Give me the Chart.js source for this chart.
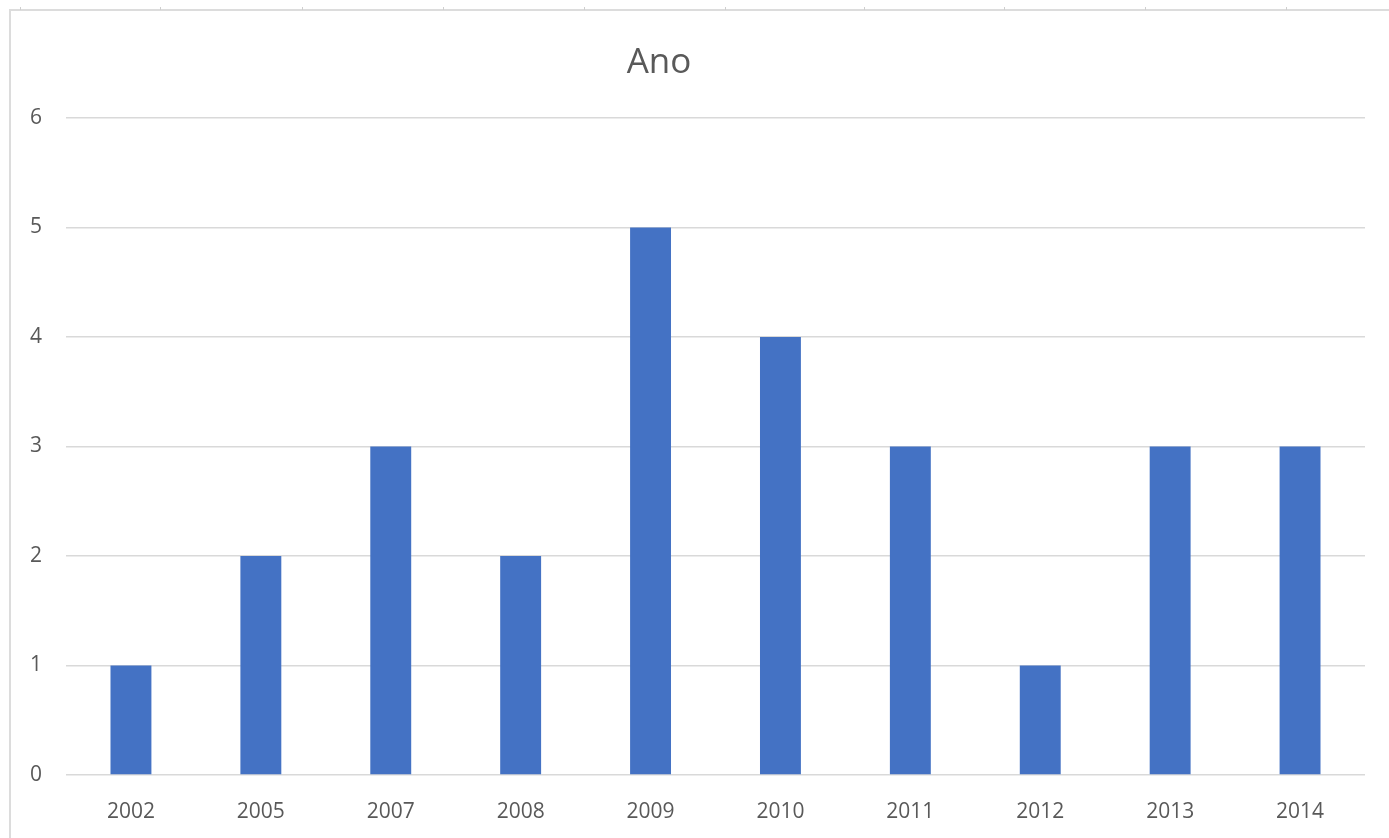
<!DOCTYPE html>
<html>
<head>
<meta charset="utf-8">
<title>Ano</title>
<script src="https://cdn.jsdelivr.net/npm/chart.js@4/dist/chart.umd.min.js"></script>
<style>
  html, body { margin: 0; padding: 0; background: #fff; }
  #wrap { position: relative; width: 1389px; height: 838px; overflow: hidden; }
  #frameTop { position: absolute; left: 10px; top: 9px; width: 1379px; height: 0; border-top: 2px solid #dcdcdc; }
  #frameLeft { position: absolute; left: 9px; top: 9px; width: 0; height: 829px; border-left: 2px solid #dcdcdc; }
  .tick { position: absolute; top: 7px; width: 1px; height: 3px; background: #cfcfcf; }
  #chartBox { position: absolute; left: 0; top: 0; width: 1389px; height: 838px; }
</style>
</head>
<body>
<div id="wrap">
  <div id="chartBox"><canvas id="anoChart"></canvas></div>
  <div id="frameTop"></div>
  <div id="frameLeft"></div>
</div>

<script>

var anos = ["2002", "2005", "2007", "2008", "2009", "2010", "2011", "2012", "2013", "2014"];
var valores = [1, 2, 3, 2, 5, 4, 3, 1, 3, 3];
var yTicks = [0, 1, 2, 3, 4, 5, 6];

// little marks along the top edge
function drawTopTicks() {

  var wrap = document.getElementById('wrap');
  var xs = [20, 160, 302, 443, 584, 725, 864, 1004, 1145, 1286];

  for (var i = 0; i < xs.length; i++) {
    var t = document.createElement('div');
    t.className = 'tick';
    t.style.left = xs[i] + 'px';
    wrap.appendChild(t);
  }
}

// title sits a bit left of the canvas centre
var titleShift = {
  id: 'titleShift',
  afterLayout: function(chart) {
    if (chart.titleBlock) {
      chart.titleBlock.right -= 47;
    }
  }
};

function printBarChart() {

  var ctx = document.getElementById('anoChart').getContext('2d');

  var chart = new Chart(ctx, {

    type: 'bar',

    data: {
      labels: anos,
      datasets: [{
        label: 'Ano',
        backgroundColor: '#4472C4',
        borderWidth: 0,
        data: valores,
        barPercentage: 0.315,
        categoryPercentage: 1,
      }]
    },

    options: {
      responsive: true,
      maintainAspectRatio: false,
      animation: false,
      layout: {
        padding: { left: 0, right: 24, top: 0, bottom: 0 }
      },
      plugins: {
        legend: { display: false },
        tooltip: { enabled: false },
        title: {
          display: true,
          text: 'Ano',
          color: '#595959',
          font: { family: '"Open Sans", sans-serif', size: 35, weight: 'normal' },
          padding: { top: 42, bottom: 34 }
        }
      },
      scales: {
        x: {
          grid: { display: false },
          border: { display: false },
          ticks: {
            color: '#595959',
            font: { family: '"Open Sans", sans-serif', size: 21 },
            padding: 16,
            maxRotation: 0
          },
          afterFit: function(scale) { scale.height = 63; }
        },
        y: {
          min: 0,
          max: 6,
          afterBuildTicks: function(scale) {
            scale.ticks = yTicks.map(function(v) { return { value: v }; });
          },
          grid: {
            color: '#d9d9d9',
            lineWidth: 1.5,
            drawTicks: false
          },
          border: { display: false },
          ticks: {
            color: '#595959',
            font: { family: '"Open Sans", sans-serif', size: 21 },
            padding: 24
          },
          afterFit: function(scale) { scale.width = 66; }
        }
      }
    },
    plugins: [titleShift]
  });
}

function init() {
  drawTopTicks();
  printBarChart();
}

init();

</script>
</body>
</html>
